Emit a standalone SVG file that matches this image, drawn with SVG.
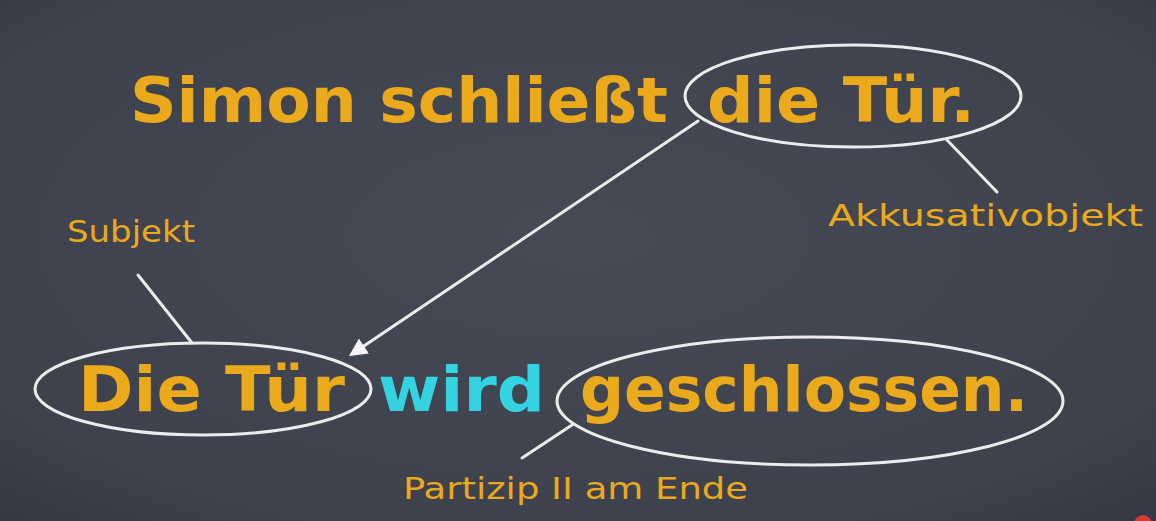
<svg xmlns="http://www.w3.org/2000/svg" width="1156" height="521" viewBox="0 0 1156 521">
<defs>
<radialGradient id="bg" cx="0.5" cy="0.45" r="0.8">
<stop offset="0" stop-color="#454a56"/>
<stop offset="0.75" stop-color="#3c414c"/>
<stop offset="1" stop-color="#30343d"/>
</radialGradient>
<marker id="ah" viewBox="0 0 10 10" refX="8" refY="5" markerWidth="6" markerHeight="6" orient="auto" markerUnits="strokeWidth">
<path d="M0,0 L10,5 L0,10 z" fill="#f4f4f4"/>
</marker>
<style>
.big{font-family:"DejaVu Sans","Noto Sans",sans-serif;font-weight:bold;fill:#eba91c;font-size:62px}
.cy{fill:#34d3e2}
.lab{font-family:"DejaVu Sans","Noto Sans",sans-serif;fill:#eba91c;font-size:31px}
.ring{fill:none;stroke:#ececec;stroke-width:3}
.wire{stroke:#ececec;stroke-width:3;fill:none;stroke-linecap:round}
</style>
</defs>
<rect width="1156" height="521" fill="url(#bg)"/>
<g id="sentence-active">
<text class="big" x="130" y="122" textLength="538" lengthAdjust="spacingAndGlyphs">Simon schließt</text>
</g>
<g id="node-akk-top">
<ellipse class="ring" cx="853" cy="96" rx="168" ry="51"/>
<text class="big" x="707" y="122" textLength="268" lengthAdjust="spacingAndGlyphs">die Tür.</text>
</g>
<g id="label-akk">
<text class="lab" x="828" y="226" textLength="315" lengthAdjust="spacingAndGlyphs">Akkusativobjekt</text>
</g>
<g id="label-subjekt">
<text class="lab" x="67" y="242" textLength="128" lengthAdjust="spacingAndGlyphs">Subjekt</text>
</g>
<g id="node-subj">
<ellipse class="ring" cx="203" cy="389" rx="168" ry="46"/>
<text class="big" x="78" y="411" textLength="267" lengthAdjust="spacingAndGlyphs">Die Tür</text>
</g>
<g id="node-wird">
<text class="big cy" x="378" y="411" textLength="167" lengthAdjust="spacingAndGlyphs">wird</text>
</g>
<g id="node-partizip">
<ellipse class="ring" cx="810" cy="401" rx="253" ry="64"/>
<text class="big" x="580" y="411" textLength="448" lengthAdjust="spacingAndGlyphs">geschlossen.</text>
</g>
<g id="label-partizip">
<text class="lab" x="403" y="499" textLength="345" lengthAdjust="spacingAndGlyphs">Partizip II am Ende</text>
</g>
<g id="connectors">
<line class="wire" x1="698" y1="121" x2="352" y2="354" marker-end="url(#ah)"/>
<line class="wire" x1="947" y1="140" x2="997" y2="192"/>
<line class="wire" x1="138" y1="275" x2="192" y2="343"/>
<line class="wire" x1="572" y1="425" x2="522" y2="458"/>
</g>
<circle cx="1143" cy="524" r="9" fill="#d63a35"/>
</svg>
